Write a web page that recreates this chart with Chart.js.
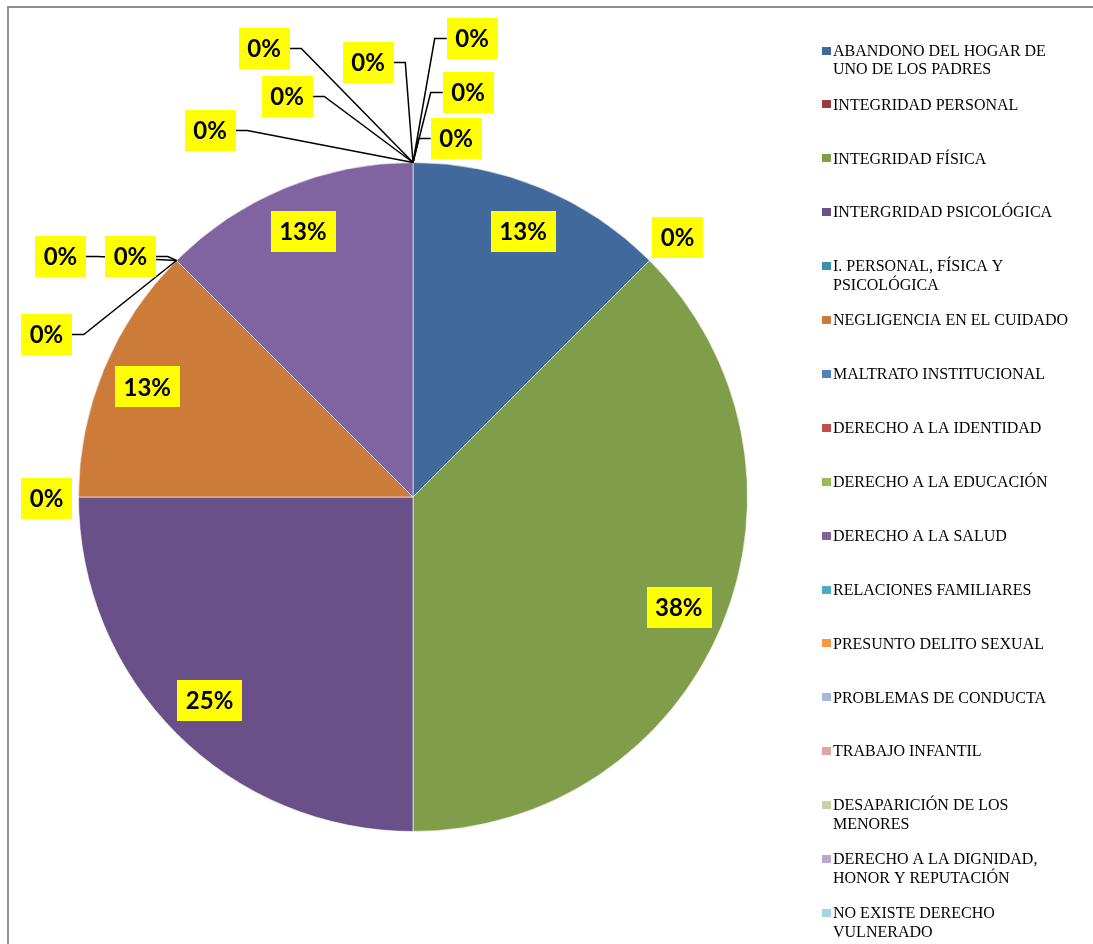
<!DOCTYPE html>
<html>
<head>
<meta charset="utf-8">
<script src="https://cdn.jsdelivr.net/npm/chart.js@4.4.1/dist/chart.umd.min.js"></script>
<style>
	html, body { margin: 0; padding: 0; background: #fff; overflow: hidden; }
	.frame {
		position: absolute; left: 7px; top: 6px; width: 1200px; height: 1000px;
		border-top: 2px solid #8f8f8f; border-left: 2px solid #8f8f8f;
	}
	#chart { position: absolute; left: 0; top: 0; }
</style>
</head>
<body>
<div class="frame"></div>
<canvas id="chart" width="1093" height="944"></canvas>
<script>
// categories (legend order)
const categories = [
	'ABANDONO DEL HOGAR DE UNO DE LOS PADRES',
	'INTEGRIDAD PERSONAL',
	'INTEGRIDAD FÍSICA',
	'INTERGRIDAD PSICOLÓGICA',
	'I. PERSONAL, FÍSICA Y PSICOLÓGICA',
	'NEGLIGENCIA EN EL CUIDADO',
	'MALTRATO INSTITUCIONAL',
	'DERECHO A LA IDENTIDAD',
	'DERECHO A LA EDUCACIÓN',
	'DERECHO A LA SALUD',
	'RELACIONES FAMILIARES',
	'PRESUNTO DELITO SEXUAL',
	'PROBLEMAS DE CONDUCTA',
	'TRABAJO INFANTIL',
	'DESAPARICIÓN DE LOS MENORES',
	'DERECHO A LA DIGNIDAD, HONOR Y REPUTACIÓN',
	'NO EXISTE DERECHO VULNERADO',
];

// number of cases per category
const counts = [1, 0, 3, 2, 0, 1, 0, 0, 0, 1, 0, 0, 0, 0, 0, 0, 0];

const colors = [
	'#41699b', '#9e3c39', '#809e49', '#6a5088', '#3a92a9', '#cc7b38',
	'#4f81bd', '#c0504d', '#9bbb59', '#8064a2', '#4bacc6', '#f79646',
	'#a7b9da', '#daa6a5', '#c3d6a4', '#b8aacc', '#a5d4e2',
];

const total = counts.reduce((a, b) => a + b, 0);
const pctLabels = counts.map(v => Math.round((v / total) * 100) + '%');

// where Excel moved the labels of the empty slices (px from the slice point on the rim)
const zeroLabelOffsets = {
	1: [28, -23],
	4: [-32, 1],
	6: [-46, -4],
	7: [-116, -4],
	8: [-130, 74],
	10: [-203, -32],
	11: [-126, -66],
	12: [-149, -114],
	13: [-45, -100],
	14: [59, -124],
	15: [55, -70],
	16: [43, -24],
};

////labels on the pie/////
const pctLabelPlugin = {
	id: 'pctLabels',
	afterDatasetsDraw(chart) {
		const ctx = chart.ctx;
		const meta = chart.getDatasetMeta(0);
		const boxH = 41;
		ctx.save();
		ctx.font = 'bold 24px Lato';
		ctx.textAlign = 'center';
		ctx.textBaseline = 'middle';

		const items = meta.data.map((arc, i) => {
			const p = arc.getProps(['x', 'y', 'startAngle', 'endAngle', 'outerRadius'], true);
			const text = pctLabels[i];
			const w = ctx.measureText(text).width + 17;
			let cx, cy, leader = null;
			if (counts[i] > 0) {
				const mid = (p.startAngle + p.endAngle) / 2;
				cx = p.x + Math.cos(mid) * p.outerRadius * 0.86;
				cy = p.y + Math.sin(mid) * p.outerRadius * 0.86;
			} else {
				const ax = p.x + Math.cos(p.startAngle) * p.outerRadius;
				const ay = p.y + Math.sin(p.startAngle) * p.outerRadius;
				const off = zeroLabelOffsets[i] || [0, -30];
				cx = ax + off[0];
				cy = ay + off[1];
				const outX = ax < cx - w / 2 - 10 || ax > cx + w / 2 + 10;
				const outY = ay < cy - boxH / 2 - 10 || ay > cy + boxH / 2 + 10;
				if (outX || outY) {
					const side = ax > cx ? 1 : -1;
					const sx = cx + side * w / 2;
					leader = [[sx, cy], [sx + side * 12, cy], [ax, ay]];
				}
			}
			return { text, w, cx, cy, leader };
		});

		ctx.strokeStyle = '#000';
		ctx.lineWidth = 1.5;
		items.forEach(it => {
			if (!it.leader) return;
			ctx.beginPath();
			ctx.moveTo(it.leader[0][0], it.leader[0][1]);
			ctx.lineTo(it.leader[1][0], it.leader[1][1]);
			ctx.lineTo(it.leader[2][0], it.leader[2][1]);
			ctx.stroke();
		});

		items.forEach(it => {
			ctx.fillStyle = '#ffff00';
			ctx.fillRect(Math.round(it.cx - it.w / 2), Math.round(it.cy - boxH / 2), Math.round(it.w), boxH);
			ctx.fillStyle = '#000';
			ctx.fillText(it.text, it.cx, it.cy + 1);
		});
		ctx.restore();
	},
};

////legend on the right/////
const sideLegendPlugin = {
	id: 'sideLegend',
	afterDraw(chart) {
		const ctx = chart.ctx;
		const left = 822, top = 50.5, step = 53.9, lineH = 18.7, maxW = 240;
		ctx.save();
		ctx.font = '16px "Liberation Serif"';
		ctx.textBaseline = 'middle';
		ctx.textAlign = 'left';
		categories.forEach((name, i) => {
			const y = top + i * step;
			ctx.fillStyle = colors[i];
			ctx.fillRect(left, Math.round(y - 4), 9, 8);

			const words = name.split(' ');
			const lines = [];
			let cur = '';
			words.forEach(wd => {
				const test = cur ? cur + ' ' + wd : wd;
				if (ctx.measureText(test).width > maxW && cur) {
					lines.push(cur);
					cur = wd;
				} else {
					cur = test;
				}
			});
			lines.push(cur);

			ctx.fillStyle = '#000';
			lines.forEach((ln, k) => ctx.fillText(ln, left + 11, y + 1 + k * lineH));
		});
		ctx.restore();
	},
};

document.addEventListener('DOMContentLoaded', function () {
	const ctx = document.getElementById('chart').getContext('2d');

	new Chart(ctx, {
		type: 'pie',
		data: {
			labels: categories,
			datasets: [
				{
					data: counts,
					backgroundColor: colors,
					borderColor: 'rgba(255,255,255,0.6)',
					borderWidth: c => (counts[c.dataIndex] > 0 ? 1 : 0),
					hoverOffset: 0,
				},
			],
		},
		options: {
			responsive: false,
			animation: false,
			devicePixelRatio: 1,
			layout: { padding: { left: 78, right: 345, top: 162, bottom: 112 } },
			plugins: {
				legend: { display: false },
				tooltip: { enabled: false },
			},
		},
		plugins: [pctLabelPlugin, sideLegendPlugin],
	});
});
</script>
</body>
</html>
